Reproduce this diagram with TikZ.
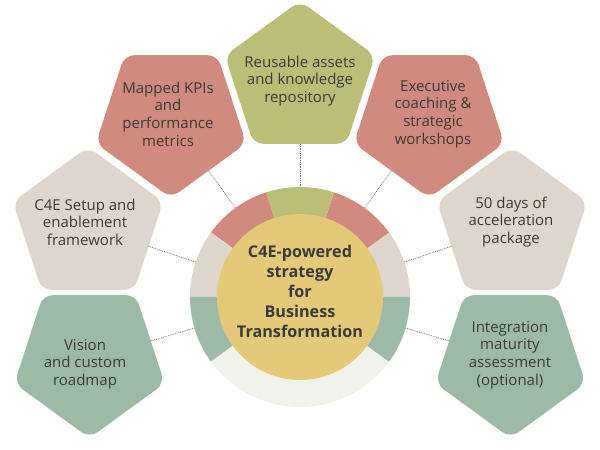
\documentclass[tikz,border=0pt]{standalone}
\usepackage{fontspec}
\setmainfont{Open Sans}
\usetikzlibrary{shapes.geometric,calc}
\definecolor{cred}{HTML}{D08A7E}
\definecolor{colive}{HTML}{BBBE77}
\definecolor{cbeige}{HTML}{DED6CD}
\definecolor{cgreen}{HTML}{9DBBA4}
\definecolor{cyellow}{HTML}{E4C979}
\definecolor{cwhite}{HTML}{F1F2EA}
\definecolor{ctext}{HTML}{3A3A3A}
\definecolor{cline}{HTML}{6E6E6E}
\begin{document}
\begin{tikzpicture}[x=1pt,y=1pt,
  pent/.style={regular polygon, regular polygon sides=5, minimum size=158pt, inner sep=0pt, outer sep=0pt, rounded corners=10pt},
  pdown/.style={pent, shape border rotate=180},
  lbl/.style={align=center, text=ctext, font=\fontsize{15}{17.6}\selectfont, inner sep=0pt},
  hubtxt/.style={align=center, text=ctext, font=\bfseries\fontsize{16.2}{20}\selectfont, inner sep=0pt},
  conn/.style={cline, line width=0.7pt, dash pattern=on 0.9pt off 0.9pt},
  ]
\useasboundingbox (0,0) rectangle (600,450);
\fill[white] (0,0) rectangle (600,450);
% pentagons
\node[pent, fill=colive] (p1) at (300,370) {};
\node[pdown, fill=cred] (p2) at (171,331) {};
\node[pdown, fill=cred] (p3) at (429,331) {};
\node[pent, fill=cbeige] (p4) at (88,224) {};
\node[pent, fill=cbeige] (p5) at (512,224) {};
\node[pdown, fill=cgreen] (p6) at (89.5,91) {};
\node[pdown, fill=cgreen] (p7) at (510.5,91) {};
% ring
\node[circle, minimum size=220pt, inner sep=0pt, outer sep=0pt] (ring) at (300,153) {};
\foreach \a/\b/\c in {0/36/cbeige, 36/72/cred, 72/108/colive, 108/144/cred, 144/180/cbeige, 180/216/cgreen, 216/324/cwhite, 324/360/cgreen}
  \fill[\c] ($(ring.center)+(\a:110)$) arc[start angle=\a, end angle=\b, radius=110] -- ($(ring.center)+(\b:80)$) arc[start angle=\b, end angle=\a, radius=80] -- cycle;
\node[circle, fill=cyellow, minimum size=166pt, inner sep=0pt, outer sep=0pt] (hub) at (ring.center) {};
% connectors
\foreach \p in {p1,p2,p3,p4,p5,p6,p7}
  \draw[conn] (\p) -- (ring);
% texts
\node[lbl] (t1) at (300,369) {Reusable assets\\and knowledge\\repository};
\node[lbl] (t2) at (168,336) {Mapped KPIs\\and\\performance\\metrics};
\node[lbl] (t3) at (433,336) {Executive\\coaching \&\\strategic\\workshops};
\node[lbl] (t4) at (85,228) {C4E Setup and\\enablement\\framework};
\node[lbl] (t5) at (511,228) {50 days of\\acceleration\\package};
\node[lbl] (t6) at (85,86) {Vision\\and custom\\roadmap};
\node[lbl] (t7) at (510,95) {Integration\\maturity\\assessment\\(optional)};
\node[hubtxt] (t0) at (300,159) {C4E-powered\\strategy\\for\\Business\\Transformation};
\end{tikzpicture}
\end{document}
